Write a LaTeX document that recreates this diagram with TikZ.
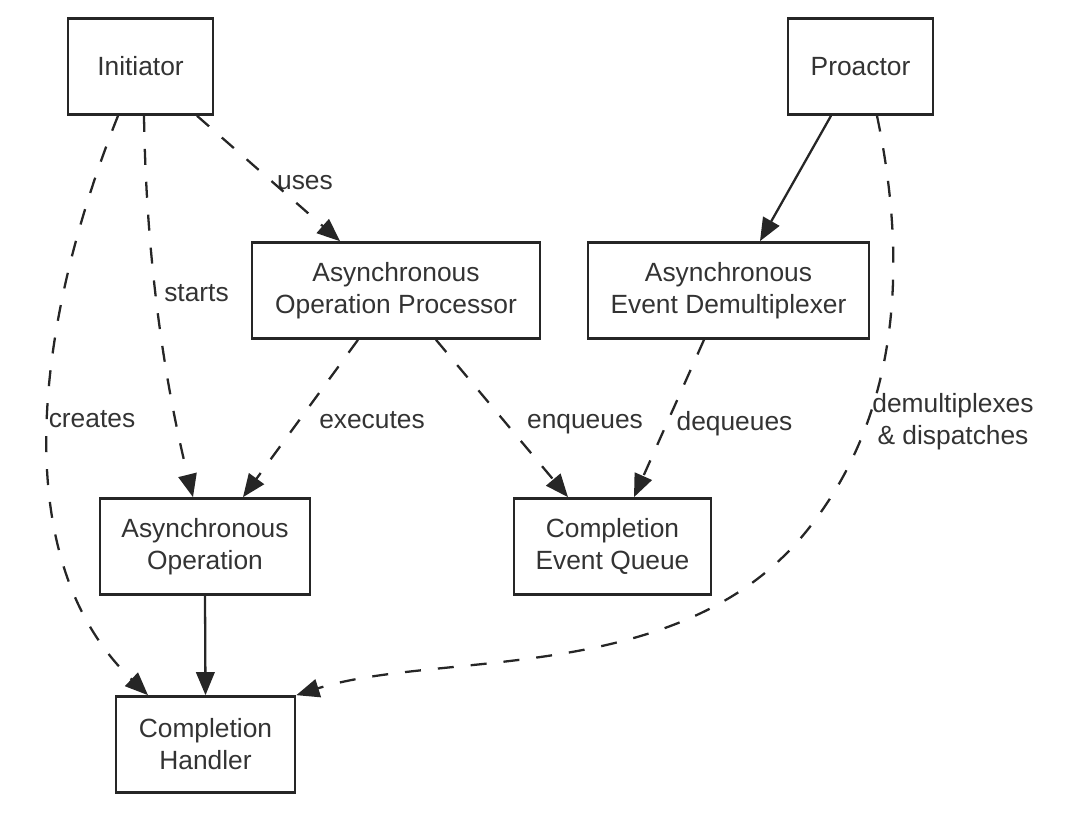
\documentclass[tikz,border=0pt]{standalone}
\usepackage{fontspec}
\setmainfont{Liberation Sans}
\usepackage{tikz}
\usetikzlibrary{arrows.meta}
\tikzset{>={Triangle[length=0.46cm,width=0.37cm]}}
\tikzset{
  block/.style={draw=black!85, line width=1.5pt, minimum height=1.92cm, align=center,
    text=black!80, font=\fontsize{15}{18.2}\selectfont},
  lbl/.style={text=black!80, font=\fontsize{15}{18.2}\selectfont, align=center, inner sep=0pt},
  link/.style={draw=black!85, line width=1.3pt, ->},
  dlink/.style={link, dash pattern=on 0.32cm off 0.34cm},
}

\begin{document}
\begin{tikzpicture}
          \useasboundingbox (0,0) rectangle (21.52,16.32);

          % Boxes
          \node[block, minimum width=2.9cm] at (2.81,14.99) (ini) {Initiator};
          \node[block, minimum width=2.9cm] at (17.21,14.99) (pro) {Proactor};
          \node[block, minimum width=5.76cm] at (7.92,10.51) (aop) {Asynchronous\\Operation Processor};
          \node[block, minimum width=5.62cm] at (14.57,10.51) (aed) {Asynchronous\\Event Demultiplexer};
          \node[block, minimum width=4.2cm] at (4.10,5.39) (ao) {Asynchronous\\Operation};
          \node[block, minimum width=3.94cm] at (12.25,5.39) (ceq) {Completion\\Event Queue};
          \node[block, minimum width=3.58cm] at (4.11,1.43) (ch) {Completion\\Handler};

          % Labels
          \node[lbl] at (6.10,12.66) (uses) {uses};
          \node[lbl] at (3.93,10.46) (starts) {starts};
          \node[lbl] at (1.84,7.94) (creates) {creates};
          \node[lbl] at (7.44,7.92) (exec) {executes};
          \node[lbl] at (11.70,7.84) (enq) {enqueues};
          \node[lbl] at (14.69,7.84) (deq) {dequeues};
          \node[lbl] at (19.06,7.88) (demux) {demultiplexes\\\& dispatches};

          % Connectors
          \coordinate (bend) at (16.10,5.66);
          \draw[dlink] ([xshift=-0.45cm]ini.south) .. controls +(-1.63,-4.09) and +(-2.88,2.76) .. ([xshift=-1.15cm]ch.north);
          \draw[dlink] ([xshift=0.07cm]ini.south) .. controls +(0.04,-2.6) and +(-0.64,2.6) .. ([xshift=-0.24cm]ao.north);
          \draw[dlink] ([xshift=1.13cm]ini.south) -- ([xshift=-1.12cm]aop.north);
          \draw[link] ([xshift=-0.59cm]pro.south) -- ([xshift=0.63cm]aed.north);
          \draw[dlink] ([xshift=0.33cm]pro.south) .. controls +(0.63,-3.0) and +(1.89,2.31) .. (bend)
                       .. controls +(-2.52,-3.08) and +(2.85,0.9) .. (ch.north east);
          \draw[dlink] ([xshift=-0.76cm]aop.south) -- ([xshift=0.76cm]ao.north);
          \draw[dlink] ([xshift=0.8cm]aop.south) -- ([xshift=-0.89cm]ceq.north);
          \draw[dlink] ([xshift=-0.49cm]aed.south) -- ([xshift=0.43cm]ceq.north);
          \draw[link] (ao.south) -- (ch.north);

        \end{tikzpicture}
\end{document}
